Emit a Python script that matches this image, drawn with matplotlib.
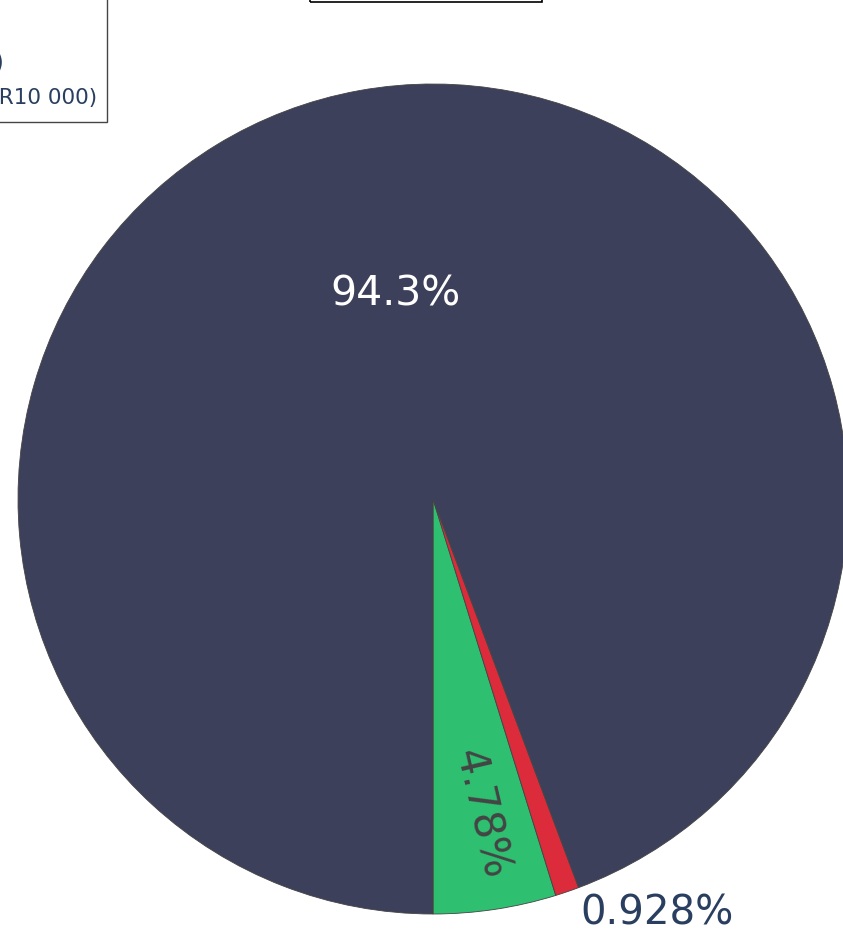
import numpy as np
import matplotlib
matplotlib.use('Agg')
import matplotlib.pyplot as plt
import matplotlib.patches as mpatches

# ── data ──────────────────────────────────────────────────────────────────────
labels = ["Achieved", "Overdue", "Remaining"]
shares = [4.78, 0.928, 94.3]
label_text = ["4.78%", "0.928%", "94.3%"]
legend_lines = ["Target progress (%)", "(Goal: ZAR10 000)"]

# ── style ─────────────────────────────────────────────────────────────────────
DARK = "#3d405b"
GREEN = "#2fbf71"
RED = "#dc2b3a"
INK = "#2a3f5f"
colors = [GREEN, RED, DARK]

W, H, DPI = 843, 932, 100
CX, CY, R = 433, 499, 415   # pie centre / radius in pixels

fig = plt.figure(figsize=(W / DPI, H / DPI), dpi=DPI, facecolor="white")
ax = fig.add_axes([0, 0, 1, 1])

wedges, _ = ax.pie(shares, colors=colors, startangle=270, counterclock=True,
                   radius=1.0, wedgeprops=dict(edgecolor="#444444", linewidth=0.6))

ax.set_xlim(-CX / R, (W - CX) / R)
ax.set_ylim(-(H - CY) / R, CY / R)
ax.set_aspect("auto")
ax.axis("off")

# slice labels
for w, txt in zip(wedges, label_text):
    ang = (w.theta1 + w.theta2) / 2
    mid = np.deg2rad(ang)
    if txt == "94.3%":
        ax.text(0.5 * np.cos(mid), 0.5 * np.sin(mid), txt, ha="center", va="center",
                fontsize=29.5, color="white")
    elif txt == "4.78%":
        ax.text(0.77 * np.cos(mid), 0.77 * np.sin(mid), txt, ha="center", va="center",
                fontsize=30, color="#444444", rotation=ang - 360 + 4.5,
                rotation_mode="anchor")
    else:
        ax.text(1.0 * np.cos(mid) + 0.032, 1.0 * np.sin(mid) - 0.005, txt,
                ha="left", va="top", fontsize=29, color=INK)

# legend box (mostly off the left edge)
fig.patches.append(mpatches.Rectangle((-0.2, 1 - 122 / H), 0.2 + 107 / W, 0.2 + 122 / H,
                                      transform=fig.transFigure, fill=False,
                                      edgecolor="#444444", linewidth=1.0))
fig.text(4 / W, 1 - 63 / H, legend_lines[0], ha="right", va="center",
         fontsize=17, color=INK)
fig.text(97 / W, 1 - 98 / H, legend_lines[1], ha="right", va="center",
         fontsize=15.5, color=INK)

# title box (only its lower edge visible)
fig.patches.append(mpatches.Rectangle((310 / W, 1 - 1.5 / H), 232 / W, 0.2,
                                      transform=fig.transFigure, fill=False,
                                      edgecolor="black", linewidth=1.2))

fig.savefig("out.png", dpi=DPI, facecolor="white")
